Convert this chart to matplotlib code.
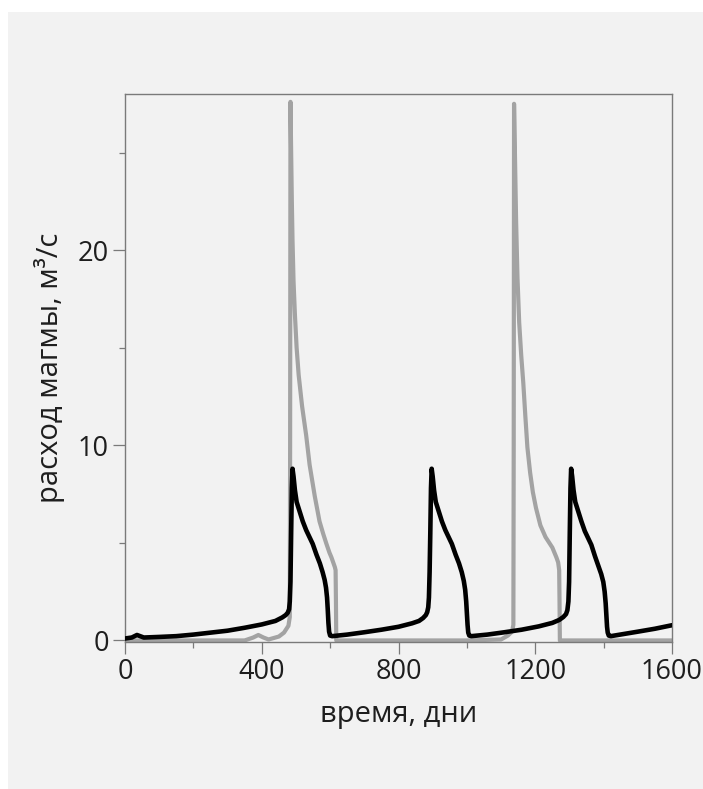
import matplotlib
matplotlib.use("Agg")
import matplotlib.pyplot as plt
from matplotlib.patches import Rectangle
from matplotlib.ticker import MultipleLocator

plt.rcParams['font.family'] = ['Open Sans', 'DejaVu Sans']

# black curve: magma flux, sampled by hand along the trace
black_t = [0, 20, 35, 55, 100, 150, 200, 250, 300, 350, 400, 440, 460, 470, 476,
           480, 482, 484, 486, 488, 490,
           493, 497, 502, 511, 520, 530, 549, 560, 570, 578, 584, 588, 591,
           593, 595, 597, 600, 606,
           650, 700, 750, 800, 840, 860, 872, 880, 884, 887, 889, 891, 893, 895, 897,
           900, 904, 909, 918, 927, 937, 956, 967, 977, 985, 991, 995, 998,
           1000, 1002, 1004, 1007, 1013,
           1060, 1110, 1160, 1210, 1250, 1270, 1282, 1290, 1294, 1297, 1299,
           1301, 1303, 1305,
           1308, 1312, 1317, 1326, 1335, 1345, 1364, 1375, 1385, 1393, 1399,
           1403, 1406, 1408, 1410, 1412, 1415, 1421,
           1500, 1550, 1600]
black_q = [0.1, 0.15, 0.28, 0.15, 0.18, 0.22, 0.3, 0.4, 0.5, 0.65, 0.82, 1.0, 1.18, 1.3, 1.42,
           1.6, 2.0, 3.0, 5.5, 7.8, 8.8,
           8.4, 7.7, 7.1, 6.6, 6.1, 5.65, 4.95, 4.4, 3.95, 3.5, 3.1, 2.7, 2.2,
           1.6, 0.9, 0.45, 0.25, 0.22,
           0.3, 0.42, 0.55, 0.7, 0.88, 1.0, 1.15, 1.3, 1.45, 1.7, 2.2, 3.5, 5.5, 7.8, 8.8,
           8.4, 7.7, 7.1, 6.6, 6.1, 5.65, 4.95, 4.4, 3.95, 3.5, 3.05, 2.6, 2.0,
           1.4, 0.8, 0.4, 0.25, 0.22,
           0.3, 0.42, 0.55, 0.72, 0.9, 1.05, 1.2, 1.35, 1.55, 2.0, 3.0,
           5.5, 7.8, 8.8,
           8.4, 7.7, 7.1, 6.6, 6.1, 5.6, 4.9, 4.3, 3.8, 3.4, 3.0,
           2.5, 1.9, 1.3, 0.7, 0.4, 0.25, 0.22,
           0.45, 0.6, 0.78]

# grey curve: second model run with sharp spikes
grey_t = [0, 350, 375, 390, 405, 420, 450, 465, 478, 482, 483, 484,
          486, 488, 490, 493, 497, 502, 508, 518, 530, 540, 555, 569, 580, 589,
          598, 604, 610, 614, 616, 617, 618,
          1000, 1100, 1120, 1132, 1136, 1137, 1138,
          1141, 1144, 1148, 1153, 1159, 1165, 1171, 1177, 1185, 1193, 1202, 1215,
          1230, 1250, 1262, 1267, 1270, 1271, 1272,
          1600]
grey_q = [0, 0, 0.15, 0.28, 0.15, 0.05, 0.2, 0.4, 0.75, 1.2, 10.0, 27.6,
          25.0, 22.5, 20.5, 18.4, 16.7, 15.0, 13.6, 12.0, 10.5, 9.0, 7.4, 6.1, 5.45, 4.96,
          4.5, 4.25, 3.95, 3.75, 3.6, 2.0, 0.0,
          0.0, 0.05, 0.25, 0.45, 0.8, 10.0, 27.5,
          24.5, 21.5, 18.6, 16.3, 14.6, 13.2, 11.5, 9.9, 8.6, 7.6, 6.8, 5.9,
          5.3, 4.76, 4.25, 4.0, 3.6, 2.0, 0.0,
          0.0]

x_ticks = [0, 400, 800, 1200, 1600]
y_ticks = [0, 10, 20]

bg = '#f2f2f2'
fig = plt.figure(figsize=(7.03, 7.89), dpi=100)
fig.patch.set_facecolor('white')
fig.add_artist(Rectangle((8 / 703, 0), 1, (789 - 12) / 789,
                         transform=fig.transFigure, facecolor=bg,
                         edgecolor='none', zorder=0))

ax = fig.add_axes([125 / 703, 0.1863, 547 / 703, 0.6945])
ax.set_facecolor(bg)

ax.plot(grey_t, grey_q, color='#a3a3a3', lw=3.0, solid_joinstyle='round',
        solid_capstyle='butt', zorder=2)
ax.plot(black_t, black_q, color='#000000', lw=3.3, solid_joinstyle='round',
        solid_capstyle='round', zorder=3)

ax.set_xlim(0, 1600)
ax.set_ylim(-0.08, 28)
ax.set_xticks(x_ticks)
ax.set_yticks(y_ticks)
ax.xaxis.set_minor_locator(MultipleLocator(200))
ax.yaxis.set_minor_locator(MultipleLocator(5))

for s in ax.spines.values():
    s.set_color('#7a7a7a')
    s.set_linewidth(1.0)

ax.tick_params(which='major', direction='out', length=8.5, width=0.9,
               color='#7a7a7a', labelsize=19.5, labelcolor='#1e1e1e', pad=3)
ax.tick_params(which='minor', direction='out', length=4.5, width=0.9,
               color='#7a7a7a')
ax.tick_params(top=False, right=False, which='both')

ax.set_xlabel('время, дни', fontsize=21, color='#1e1e1e', labelpad=10)
ax.set_ylabel('расход магмы, м³/с', fontsize=21, color='#1e1e1e', labelpad=9)

fig.savefig('out.png', dpi=100, facecolor='white')
